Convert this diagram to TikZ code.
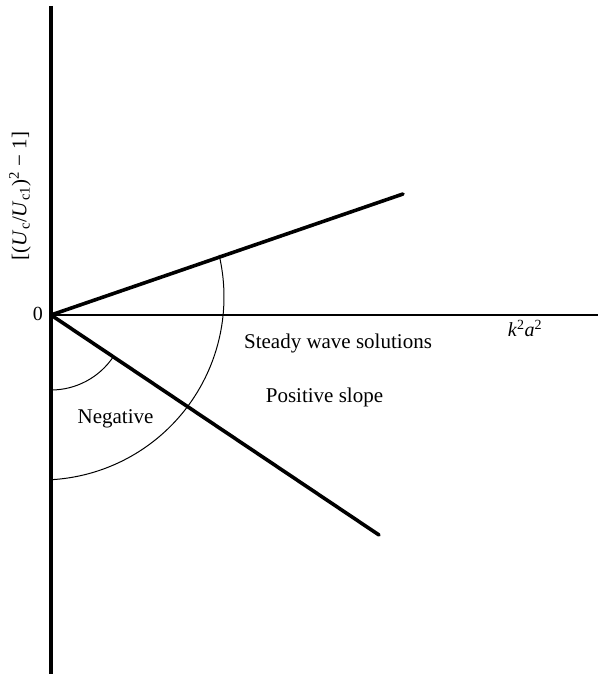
\documentclass[tikz,border=0pt]{standalone}
\usepackage{fontspec}
\setmainfont{Liberation Serif}

\begin{document}
\begin{tikzpicture}[
    x=1pt, y=1pt,
    axis/.style={line width=4pt},
    baseaxis/.style={line width=1.6pt},
    branch/.style={line width=3.6pt, line cap=round},
    sector/.style={line width=1pt},
    lbl/.style={font=\fontsize{21}{25}\selectfont, inner sep=0pt},
    small/.style={font=\fontsize{20}{24}\selectfont, inner sep=0pt}]
  \useasboundingbox (-51,-359) rectangle (547,315);
  % axes
  \coordinate (O) at (0,0);
  \coordinate (ytop) at (0,309);
  \coordinate (ybot) at (0,-359);
  \coordinate (xend) at (547,0);
  \draw[baseaxis] (O) -- (xend);
  \draw[axis] (ytop) -- (ybot);
  % the two branches
  \coordinate (upend) at (352,121);
  \coordinate (lowend) at (328,-220);
  \draw[branch] (O) -- (upend);
  \draw[branch] (O) -- (lowend);
  % sector arcs
  \draw[sector] (O) ++(-33.85:75) arc[start angle=-33.85, end angle=-90, radius=75];
  \coordinate (bigc) at (-10,18);
  \draw[sector] (bigc) ++(13.3:183) arc[start angle=13.3, end angle=-86.6, radius=183];
  % labels
  \node[small, anchor=base] (zero) at (-13,-6) {0};
  \node[small, anchor=base] (xlab) at (474,-22)
    {\textit{k}\textsuperscript{2}\textit{a}\textsuperscript{2}};
  \node[lbl, rotate=90] (ylab) at (-31,119)
    {[(\textit{U}\textsubscript{c}/\textit{U}\textsubscript{c1})\textsuperscript{2} − 1]};
  \node[lbl, anchor=base] (steady) at (287,-34) {Steady wave solutions};
  \node[lbl, anchor=base] (pos) at (273.5,-87) {Positive slope};
  \node[lbl, anchor=base] (neg) at (64.5,-108) {Negative};
\end{tikzpicture}
\end{document}
